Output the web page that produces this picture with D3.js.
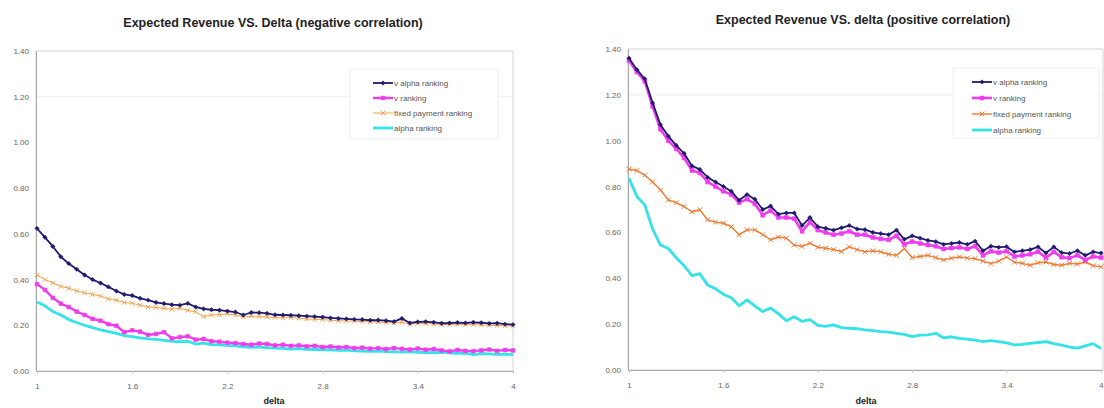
<!DOCTYPE html>
<html><head><meta charset="utf-8">
<script src="https://cdn.jsdelivr.net/npm/d3@7"></script>
<style>body{margin:0;background:#fff}svg{display:block;font-family:"Liberation Sans",Arial,sans-serif}</style>
</head><body><svg id="c" width="1104" height="408"></svg>
<script>
// ---------------- DATA ----------------
const delta = [1.00,1.05,1.10,1.15,1.20,1.25,1.30,1.35,1.40,1.45,1.50,1.55,1.60,1.65,1.70,1.75,1.80,1.85,1.90,1.95,
2.00,2.05,2.10,2.15,2.20,2.25,2.30,2.35,2.40,2.45,2.50,2.55,2.60,2.65,2.70,2.75,2.80,2.85,2.90,2.95,
3.00,3.05,3.10,3.15,3.20,3.25,3.30,3.35,3.40,3.45,3.50,3.55,3.60,3.65,3.70,3.75,3.80,3.85,3.90,3.95,4.00];
const xTickLabels = ["1","1.6","2.2","2.8","3.4","4"];
const yTickValues = [0,0.2,0.4,0.6,0.8,1.0,1.2,1.4];
const seriesNames = ["v alpha ranking","v ranking","fixed payment ranking","alpha ranking"];
const titles = ["Expected Revenue VS. Delta (negative correlation)","Expected Revenue VS. delta (positive correlation)"];
const xAxisTitle = "delta";

// negative correlation
const vAlphaNeg = [0.624,0.585,0.545,0.50,0.47,0.445,0.42,0.40,0.385,0.368,0.35,0.335,0.33,0.318,0.31,0.30,0.295,0.29,0.288,0.296,
0.28,0.272,0.268,0.266,0.262,0.258,0.245,0.256,0.255,0.252,0.246,0.245,0.244,0.242,0.24,0.238,0.236,0.232,0.23,0.228,
0.226,0.225,0.222,0.223,0.22,0.216,0.23,0.21,0.215,0.216,0.213,0.209,0.21,0.212,0.21,0.213,0.211,0.208,0.209,0.205,0.203];
const vNeg = [0.38,0.355,0.32,0.295,0.28,0.26,0.245,0.228,0.22,0.205,0.198,0.17,0.178,0.172,0.158,0.162,0.17,0.143,0.148,0.152,
0.137,0.14,0.13,0.128,0.124,0.122,0.118,0.115,0.12,0.118,0.112,0.115,0.11,0.112,0.108,0.11,0.105,0.107,0.103,0.105,
0.10,0.102,0.098,0.10,0.096,0.10,0.097,0.094,0.098,0.093,0.096,0.09,0.086,0.092,0.088,0.087,0.09,0.094,0.088,0.092,0.09];
const fixedNeg = [0.42,0.40,0.385,0.37,0.362,0.35,0.342,0.335,0.328,0.315,0.31,0.30,0.296,0.288,0.28,0.278,0.274,0.27,0.275,0.265,
0.259,0.238,0.245,0.246,0.25,0.245,0.236,0.24,0.238,0.236,0.234,0.232,0.234,0.231,0.228,0.226,0.225,0.222,0.22,0.219,
0.218,0.216,0.215,0.214,0.212,0.21,0.213,0.205,0.208,0.207,0.206,0.203,0.204,0.205,0.202,0.203,0.201,0.20,0.199,0.198,0.196];
const alphaNeg = [0.302,0.285,0.26,0.245,0.225,0.212,0.20,0.19,0.18,0.172,0.165,0.155,0.15,0.145,0.141,0.138,0.134,0.13,0.128,0.13,
0.118,0.122,0.115,0.114,0.112,0.11,0.106,0.104,0.105,0.102,0.10,0.099,0.096,0.098,0.095,0.094,0.093,0.092,0.09,0.091,
0.088,0.087,0.086,0.087,0.085,0.084,0.083,0.085,0.082,0.081,0.08,0.082,0.079,0.077,0.078,0.072,0.076,0.075,0.073,0.074,0.072];

// positive correlation
const vAlphaPos = [1.36,1.31,1.27,1.165,1.07,1.02,0.98,0.945,0.89,0.875,0.84,0.82,0.80,0.78,0.74,0.765,0.745,0.70,0.715,0.68,
0.685,0.685,0.63,0.665,0.625,0.618,0.61,0.62,0.63,0.615,0.612,0.60,0.595,0.59,0.61,0.57,0.585,0.575,0.565,0.56,
0.548,0.552,0.556,0.548,0.562,0.52,0.54,0.535,0.538,0.515,0.52,0.525,0.537,0.51,0.537,0.512,0.508,0.52,0.50,0.515,0.51];
const vPos = [1.35,1.30,1.26,1.15,1.05,1.00,0.965,0.925,0.87,0.86,0.82,0.80,0.78,0.765,0.73,0.745,0.725,0.675,0.695,0.665,
0.665,0.66,0.605,0.645,0.61,0.60,0.59,0.595,0.605,0.59,0.59,0.578,0.572,0.568,0.585,0.548,0.56,0.552,0.545,0.54,
0.528,0.532,0.535,0.528,0.54,0.50,0.518,0.512,0.518,0.495,0.50,0.505,0.516,0.49,0.515,0.492,0.488,0.50,0.48,0.495,0.49];
const fixedPos = [0.876,0.87,0.85,0.82,0.785,0.742,0.73,0.713,0.69,0.699,0.655,0.645,0.64,0.625,0.59,0.611,0.611,0.59,0.568,0.58,
0.575,0.545,0.539,0.553,0.535,0.531,0.525,0.517,0.537,0.525,0.515,0.52,0.515,0.505,0.50,0.53,0.49,0.495,0.50,0.49,
0.48,0.488,0.493,0.488,0.486,0.475,0.464,0.475,0.493,0.47,0.465,0.457,0.468,0.471,0.46,0.457,0.465,0.462,0.471,0.455,0.45];
const alphaPos = [0.837,0.757,0.72,0.615,0.545,0.53,0.49,0.455,0.412,0.42,0.37,0.355,0.33,0.315,0.28,0.306,0.28,0.255,0.27,0.245,
0.215,0.232,0.212,0.22,0.195,0.19,0.197,0.185,0.182,0.18,0.175,0.172,0.167,0.165,0.16,0.155,0.146,0.152,0.153,0.16,
0.14,0.145,0.138,0.135,0.13,0.124,0.128,0.124,0.118,0.109,0.112,0.116,0.12,0.124,0.115,0.109,0.10,0.095,0.105,0.115,0.093];

// ---------------- DRAWING ----------------
const svg = d3.select("#c");
const FONT = '"Liberation Sans", Arial, sans-serif';

function markerPath(type, s) {
  if (type === "diamond") return `M0,${-s}L${s},0L0,${s}L${-s},0Z`;
  if (type === "square") return `M${-s},${-s}H${s}V${s}H${-s}Z`;
  if (type === "x") return `M${-s},${-s}L${s},${s}M${-s},${s}L${s},${-s}`;
  return "";
}

function drawChart(layout, data, styles, title) {
  const g = svg.append("g");
  const x = d3.scaleLinear().domain([1, 4]).range([layout.x0, layout.x1]);
  const y = d3.scaleLinear().domain([0, 1.4]).range([layout.yb, layout.yt]);

  g.append("rect").attr("x", layout.ax).attr("y", layout.yt)
    .attr("width", layout.right - layout.ax).attr("height", layout.yb - layout.yt)
    .attr("fill", "#fff").attr("stroke", "#d4d4d4").attr("stroke-width", 1);
  g.append("line").attr("x1", layout.ax).attr("x2", layout.right)
    .attr("y1", y(1.2)).attr("y2", y(1.2)).attr("stroke", "#ececec");

  const ya = g.append("g").attr("transform", `translate(${layout.ax},0)`)
    .call(d3.axisLeft(y).tickValues(yTickValues).tickFormat(d3.format(".2f")).tickSize(0).tickPadding(7));
  ya.select(".domain").attr("stroke", "#a8a8a8");
  ya.selectAll("text").attr("font-size", 8).attr("fill", "#666").attr("font-family", FONT);

  const xa = g.append("g").attr("transform", `translate(0,${layout.yb})`)
    .call(d3.axisBottom(x).tickValues(xTickLabels.map(Number)).tickFormat((d, i) => xTickLabels[i]).tickSize(3).tickPadding(9).tickSizeOuter(0));
  xa.select(".domain").attr("stroke", "#a8a8a8").attr("d", `M${layout.ax},0.5H${layout.right}`);
  xa.selectAll(".tick line").attr("stroke", "#ccc");
  xa.selectAll("text").attr("font-size", 8).attr("fill", "#666").attr("font-family", FONT);

  g.append("text").attr("x", layout.titleX).attr("y", layout.titleY).attr("text-anchor", "middle")
    .attr("font-size", 12.5).attr("font-weight", "bold").attr("fill", "#222").attr("font-family", FONT).text(title);
  g.append("text").attr("x", layout.xlabX).attr("y", 404).attr("text-anchor", "middle")
    .attr("font-size", 9).attr("font-weight", "bold").attr("fill", "#222").attr("font-family", FONT).text(xAxisTitle);

  const order = [3, 2, 1, 0];
  order.forEach(i => {
    const st = styles[i];
    const pts = delta.map((d, j) => [x(d), y(data[i][j])]);
    g.append("path").attr("d", d3.line()(pts)).attr("fill", "none")
      .attr("stroke", st.color).attr("stroke-width", st.width).attr("stroke-linejoin", "round");
    if (st.marker) {
      g.append("g").selectAll("path").data(pts).join("path")
        .attr("transform", p => `translate(${p[0]},${p[1]})`)
        .attr("d", markerPath(st.marker, st.ms))
        .attr("fill", st.marker === "x" ? "none" : st.color)
        .attr("stroke", st.color).attr("stroke-width", st.marker === "x" ? 1 : 0.5);
    }
  });

  const lg = g.append("g");
  lg.append("rect").attr("x", layout.lgX).attr("y", layout.lgY).attr("width", layout.lgW).attr("height", layout.lgH)
    .attr("fill", "#fff").attr("stroke", "#f0f0f0");
  seriesNames.forEach((name, i) => {
    const st = styles[i];
    const ly = layout.lgRows[i];
    lg.append("line").attr("x1", layout.lgS0).attr("x2", layout.lgS1).attr("y1", ly).attr("y2", ly)
      .attr("stroke", st.color).attr("stroke-width", st.width);
    if (st.marker) {
      lg.append("path").attr("transform", `translate(${(layout.lgS0 + layout.lgS1) / 2},${ly})`)
        .attr("d", markerPath(st.marker, st.ms))
        .attr("fill", st.marker === "x" ? "none" : st.color)
        .attr("stroke", st.color).attr("stroke-width", st.marker === "x" ? 1 : 0.5);
    }
    lg.append("text").attr("x", layout.lgS1 + 1).attr("y", ly + 3).attr("font-size", 8)
      .attr("fill", "#555").attr("font-family", FONT).text(name);
  });
}

const stylesNeg = [
  {color: "#221a6e", width: 1.8, marker: "diamond", ms: 2.2},
  {color: "#ee3cee", width: 2.4, marker: "square", ms: 1.9},
  {color: "#f5a24c", width: 1, marker: "x", ms: 2.2},
  {color: "#33e3e8", width: 2.8, marker: null}
];
const stylesPos = [
  {color: "#221a6e", width: 1.8, marker: "diamond", ms: 2.2},
  {color: "#ee3cee", width: 2.6, marker: "square", ms: 2},
  {color: "#f07a30", width: 1.4, marker: "x", ms: 2.4},
  {color: "#33e3e8", width: 2.8, marker: null}
];

drawChart({x0: 37, x1: 513, yb: 371, yt: 51, ax: 36, right: 513, titleX: 273, titleY: 27, xlabX: 274,
  lgX: 350, lgY: 69, lgW: 148, lgH: 70, lgS0: 373, lgS1: 393, lgRows: [83, 98, 113, 128]},
  [vAlphaNeg, vNeg, fixedNeg, alphaNeg], stylesNeg, titles[0]);

drawChart({x0: 629, x1: 1101, yb: 370, yt: 49, ax: 628, right: 1103, titleX: 863, titleY: 24, xlabX: 866,
  lgX: 953, lgY: 68, lgW: 146, lgH: 70, lgS0: 972, lgS1: 992, lgRows: [82, 98, 114, 130]},
  [vAlphaPos, vPos, fixedPos, alphaPos], stylesPos, titles[1]);
</script>
</body></html>
